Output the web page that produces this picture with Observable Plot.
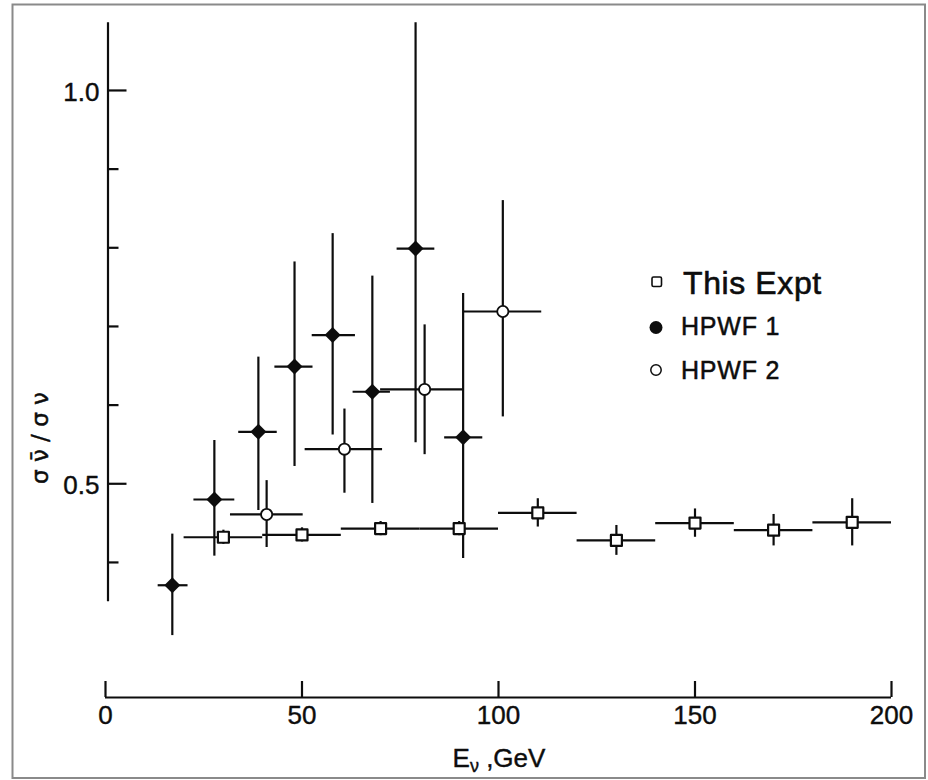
<!DOCTYPE html>
<html>
<head>
<meta charset="utf-8">
<script src="https://cdn.jsdelivr.net/npm/d3@7"></script>
<script src="https://cdn.jsdelivr.net/npm/@observablehq/plot@0.6"></script>
<style>
  html, body { margin: 0; padding: 0; background: #fff; }
  #chart { position: relative; width: 928px; height: 780px; }
  #chart svg { display: block; }
</style>
</head>
<body>
<div id="chart"></div>
<script>
// ---- data ----
// This Expt (open squares), 20 GeV bins
const exptE    = [30, 50, 70, 90, 110, 130, 150, 170, 190];
const exptR    = [0.432, 0.435, 0.443, 0.443, 0.463, 0.428, 0.450, 0.441, 0.451];
const exptErr  = [0.009, 0.009, 0.009, 0.009, 0.018, 0.019, 0.018, 0.020, 0.030];
const exptBinLo = [20, 40, 60, 80, 100, 120, 140, 160, 180];
const exptBinHi = [40, 60, 80, 100, 120, 140, 160, 180, 200];

// HPWF 1 (filled)
const h1E   = [17.0, 27.7, 38.9, 48.1, 57.8, 67.9, 78.9, 91.0];
const h1R   = [0.371, 0.480, 0.566, 0.649, 0.689, 0.617, 0.799, 0.559];
const h1Lo  = [0.307, 0.408, 0.466, 0.522, 0.562, 0.475, 0.552, 0.405];
const h1Hi  = [0.436, 0.555, 0.661, 0.782, 0.818, 0.764, 1.086, 0.742];
const h1XLo = [13.4, 22.5, 33.9, 43.1, 52.6, 63.0, 74.2, 86.3];
const h1XHi = [21.0, 32.9, 43.7, 52.8, 63.6, 72.5, 83.8, 96.0];

// HPWF 2 (open circles)
const h2E   = [41.0, 60.8, 81.2, 101.1];
const h2R   = [0.461, 0.544, 0.620, 0.719];
const h2Lo  = [0.419, 0.488, 0.537, 0.585];
const h2Hi  = [0.504, 0.595, 0.702, 0.860];
const h2XLo = [31.8, 50.8, 70.0, 91.0];
const h2XHi = [50.3, 70.5, 91.0, 111.0];

// axes
const xTicks = [0, 50, 100, 150, 200];
const yMajorTicks = [0.5, 1.0];
const yMinorTicks = [0.4, 0.6, 0.7, 0.8, 0.9];
const yAxisRange = [0.35, 1.086];
const xDomain = [0, 200];
const yDomain = [0.2283, 1.0864];

const legendLabels = ["This Expt", "HPWF 1", "HPWF 2"];

// ---- build tables ----
const expt = exptE.map((e, i) => ({e, r: exptR[i], lo: exptR[i] - exptErr[i], hi: exptR[i] + exptErr[i], xlo: exptBinLo[i], xhi: exptBinHi[i]}));
const h1 = h1E.map((e, i) => ({e, r: h1R[i], lo: h1Lo[i], hi: h1Hi[i], xlo: h1XLo[i], xhi: h1XHi[i]}));
const h2 = h2E.map((e, i) => ({e, r: h2R[i], lo: h2Lo[i], hi: h2Hi[i], xlo: h2XLo[i], xhi: h2XHi[i]}));

const W = 928, H = 780;
const mL = 105, mR = 37, mT = 22, mB = 83;
const plotW = W - mL - mR, plotH = H - mT - mB;
const ink = "#0d0d0d";
const font = "'Liberation Sans', Arial, sans-serif";
const lw = 2.2;

const errMarks = (data) => [
  Plot.ruleY(data, {y: "r", x1: "xlo", x2: "xhi", stroke: ink, strokeWidth: lw}),
  Plot.ruleX(data, {x: "e", y1: "lo", y2: "hi", stroke: ink, strokeWidth: lw})
];

const chart = Plot.plot({
  width: W, height: H,
  marginLeft: mL, marginRight: mR, marginTop: mT, marginBottom: mB,
  style: {background: "#fff", fontFamily: font, color: ink},
  x: {domain: xDomain, axis: null},
  y: {domain: yDomain, axis: null},
  marks: [
    // x axis
    Plot.ruleY([yDomain[0]], {x1: xDomain[0], x2: xDomain[1], stroke: ink, strokeWidth: lw}),
    Plot.ruleX(xTicks, {x: d => d, insetTop: plotH - 16, stroke: ink, strokeWidth: lw}),
    Plot.text(xTicks, {x: d => d, frameAnchor: "bottom", dy: 26, text: d => String(d), fontSize: 26, fill: ink, stroke: ink, strokeWidth: 0.4}),
    // y axis
    Plot.ruleX([xDomain[0]], {y1: yAxisRange[0], y2: yAxisRange[1], dx: 2.5, stroke: ink, strokeWidth: lw}),
    Plot.ruleY(yMajorTicks, {y: d => d, dx: 2.5, insetRight: plotW - 19, stroke: ink, strokeWidth: lw}),
    Plot.ruleY(yMinorTicks, {y: d => d, dx: 2.5, insetRight: plotW - 11, stroke: ink, strokeWidth: lw}),
    Plot.text(yMajorTicks, {x: xDomain[0], y: d => d, dx: -6, dy: 2, textAnchor: "end", text: d => d.toFixed(1), fontSize: 26, fill: ink, stroke: ink, strokeWidth: 0.4}),
    // error bars
    ...errMarks(expt),
    ...errMarks(h2),
    ...errMarks(h1),
    // markers
    Plot.dot(expt, {x: "e", y: "r", symbol: "square", r: 6.2, fill: "#fff", stroke: ink, strokeWidth: 2.2, strokeLinejoin: "round"}),
    Plot.dot(h2, {x: "e", y: "r", symbol: "circle", r: 5.6, fill: "#fff", stroke: ink, strokeWidth: 1.8}),
    Plot.dot(h1, {x: "e", y: "r", symbol: "diamond2", r: 7.2, fill: ink, stroke: "none"})
  ]
});

document.getElementById("chart").appendChild(chart);

// ---- decorations: scan frame, axis titles, legend ----
const svg = d3.select(chart);
svg.append("rect")
  .attr("x", 12.5).attr("y", 4.5).attr("width", 912.5).attr("height", 773.5)
  .attr("fill", "none").attr("stroke", "#8a8a8a").attr("stroke-width", 2);

// x title
const xt = svg.append("text")
  .attr("x", 499).attr("y", 767)
  .attr("text-anchor", "middle")
  .attr("font-family", font).attr("font-size", 26).attr("fill", ink)
  .attr("stroke", ink).attr("stroke-width", 0.4);
xt.append("tspan").text("E");
xt.append("tspan").attr("font-size", 18).attr("dy", 5).text("ν");
xt.append("tspan").attr("dy", -5).text(" ,GeV");

// y title
svg.append("text")
  .attr("transform", "translate(40,438) rotate(-90)")
  .attr("text-anchor", "middle").attr("dominant-baseline", "central")
  .attr("font-family", "'DejaVu Sans', sans-serif").attr("font-size", 23).attr("fill", ink)
  .attr("stroke", ink).attr("stroke-width", 0.5)
  .text("σ ν\u0304 / σ ν");

// legend
const lg = svg.append("g").attr("font-family", font).attr("fill", ink).attr("text-anchor", "start")
  .attr("stroke", "none");
lg.append("rect").attr("x", 652).attr("y", 277).attr("width", 9.5).attr("height", 9.5).attr("rx", 1.5)
  .attr("fill", "#fff").attr("stroke", ink).attr("stroke-width", 1.6);
lg.append("text").attr("x", 683).attr("y", 294).attr("font-size", 32).attr("letter-spacing", 0.6)
  .attr("stroke", ink).attr("stroke-width", 0.6).text(legendLabels[0]);
lg.append("circle").attr("cx", 656).attr("cy", 327.5).attr("r", 6.5).attr("fill", ink);
lg.append("text").attr("x", 681).attr("y", 335).attr("font-size", 25).attr("letter-spacing", 0.8)
  .attr("stroke", ink).attr("stroke-width", 0.5).text(legendLabels[1]);
lg.append("circle").attr("cx", 656).attr("cy", 370).attr("r", 5.2).attr("fill", "#fff").attr("stroke", ink).attr("stroke-width", 1.5);
lg.append("text").attr("x", 681).attr("y", 379).attr("font-size", 25).attr("letter-spacing", 0.8)
  .attr("stroke", ink).attr("stroke-width", 0.5).text(legendLabels[2]);
</script>
</body>
</html>
